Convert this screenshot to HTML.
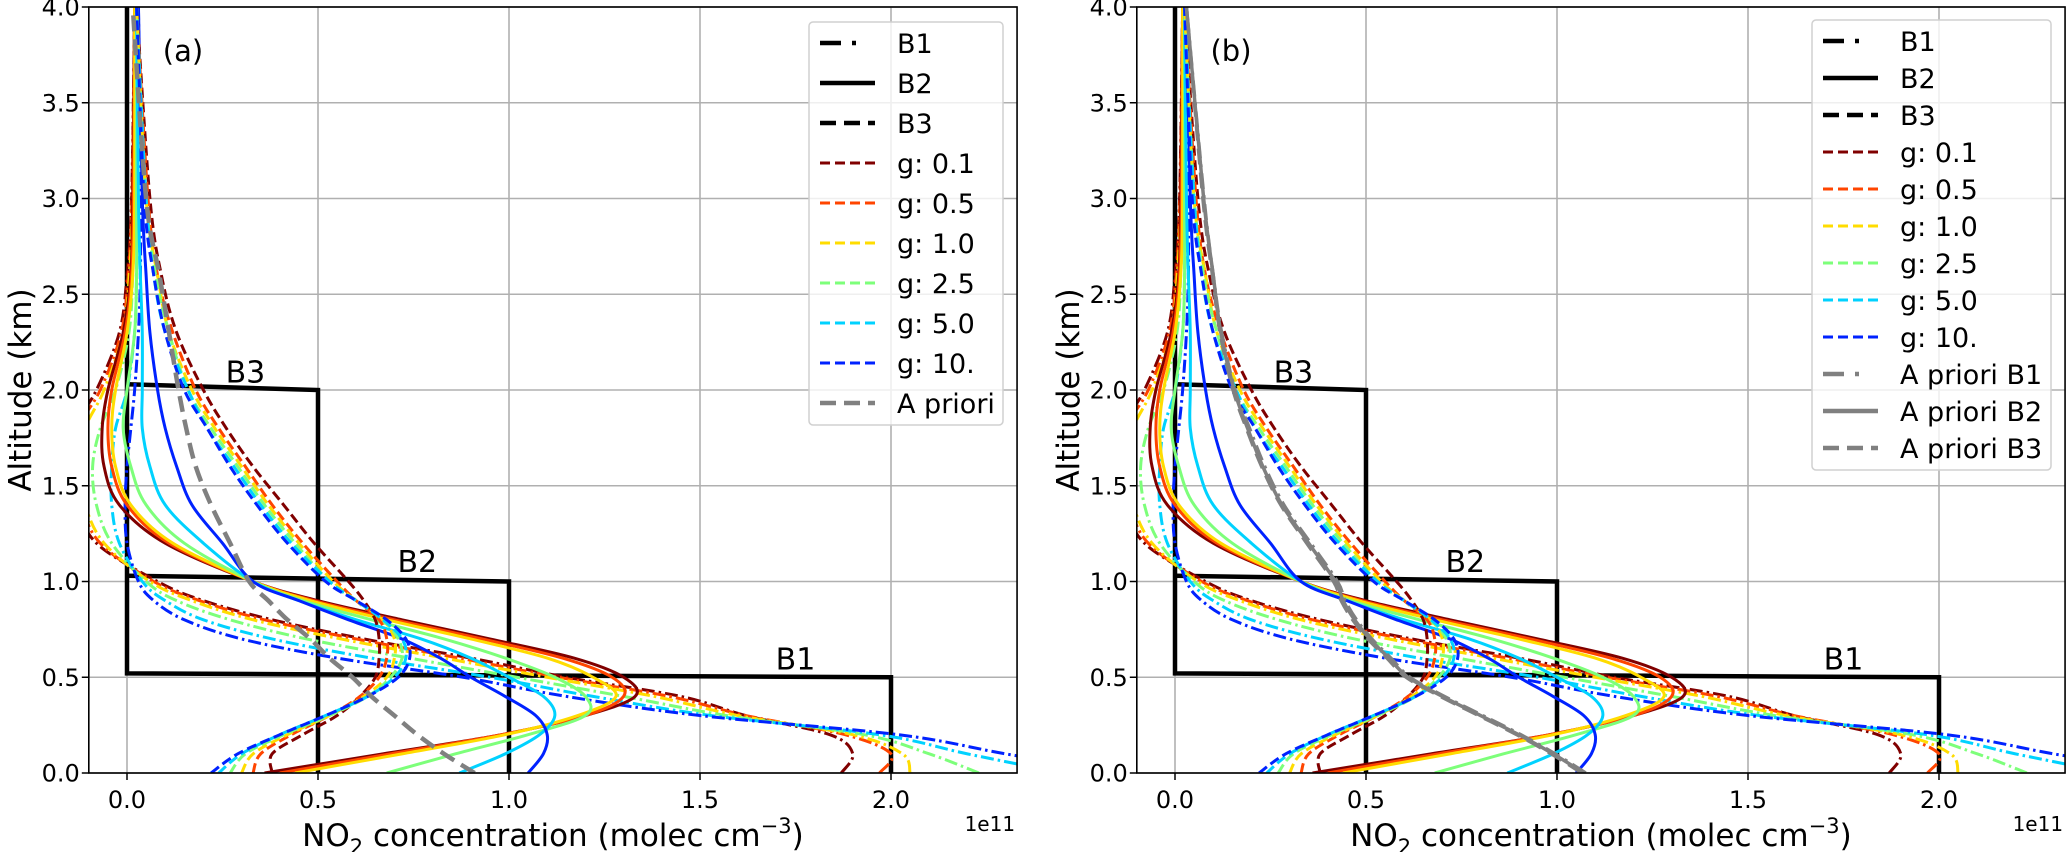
<!DOCTYPE html>
<html><head><meta charset="utf-8"><style>
body{margin:0;background:#fff;}
svg{display:block;font-family:"DejaVu Sans","Liberation Sans",sans-serif;}
</style></head><body>
<svg id="chart" width="2067" height="852" viewBox="0 0 2067 852" xmlns="http://www.w3.org/2000/svg"></svg>
<script>
const altitudes=[0,0.1,0.2,0.3,0.4,0.5,0.6,0.7,0.8,0.9,1.0,1.2,1.4,1.6,1.8,2.0,2.3,2.6,3.0,4.0];
const gLabels=["g: 0.1","g: 0.5","g: 1.0","g: 2.5","g: 5.0","g: 10."];
const gColors=["#800000","#ff4500","#ffdc00","#7dff7a","#00d2ff","#0022ff"];
const b1Series=[
[1.87,1.9,1.84,1.62,1.45,1.15,0.9,0.62,0.38,0.2,0.08,-0.08,-0.13,-0.16,-0.14,-0.08,-0.02,0.0,0.012,0.02],
[1.97,2.0,1.88,1.62,1.42,1.13,0.87,0.6,0.36,0.19,0.07,-0.07,-0.12,-0.15,-0.13,-0.07,-0.015,0.003,0.013,0.02],
[2.05,2.03,1.9,1.6,1.38,1.1,0.83,0.56,0.33,0.17,0.06,-0.06,-0.11,-0.13,-0.11,-0.06,-0.01,0.006,0.015,0.02],
[2.23,2.1,1.93,1.57,1.3,1.02,0.74,0.47,0.27,0.13,0.05,-0.04,-0.08,-0.09,-0.07,-0.03,0.005,0.015,0.02,0.022],
[2.45,2.2,1.97,1.53,1.22,0.95,0.64,0.38,0.2,0.1,0.04,-0.02,-0.04,-0.04,-0.03,0.0,0.02,0.025,0.027,0.025],
[2.6,2.3,2.02,1.5,1.15,0.88,0.55,0.3,0.15,0.07,0.03,0.0,-0.005,0.0,0.01,0.02,0.03,0.035,0.035,0.03]];
const b2Series=[
[0.36,0.67,0.98,1.2,1.33,1.3,1.17,0.95,0.72,0.5,0.33,0.1,-0.02,-0.06,-0.065,-0.05,-0.01,0.01,0.015,0.02],
[0.4,0.69,0.98,1.2,1.3,1.27,1.14,0.93,0.7,0.49,0.33,0.11,0.0,-0.04,-0.05,-0.04,-0.005,0.012,0.017,0.02],
[0.44,0.72,0.99,1.18,1.28,1.22,1.1,0.9,0.68,0.48,0.33,0.12,0.01,-0.03,-0.04,-0.03,0.0,0.015,0.02,0.02],
[0.68,0.86,1.05,1.2,1.2,1.12,0.99,0.83,0.64,0.46,0.33,0.15,0.05,0.01,-0.01,0.0,0.02,0.025,0.025,0.025],
[0.87,0.99,1.08,1.12,1.09,1.0,0.9,0.77,0.6,0.45,0.33,0.2,0.1,0.06,0.04,0.04,0.04,0.035,0.03,0.025],
[1.05,1.09,1.1,1.07,0.99,0.9,0.82,0.72,0.58,0.45,0.33,0.25,0.17,0.13,0.1,0.08,0.06,0.05,0.04,0.03]];
const b3Series=[
[0.38,0.38,0.46,0.55,0.61,0.65,0.66,0.66,0.65,0.62,0.58,0.49,0.41,0.33,0.26,0.2,0.13,0.09,0.06,0.025],
[0.33,0.35,0.43,0.53,0.61,0.66,0.68,0.68,0.66,0.6,0.55,0.46,0.38,0.31,0.24,0.18,0.12,0.08,0.055,0.025],
[0.30,0.33,0.42,0.53,0.62,0.68,0.7,0.7,0.67,0.6,0.54,0.45,0.37,0.3,0.23,0.17,0.11,0.08,0.05,0.025],
[0.27,0.31,0.41,0.53,0.63,0.69,0.72,0.71,0.67,0.6,0.53,0.44,0.36,0.29,0.22,0.16,0.11,0.075,0.05,0.025],
[0.24,0.3,0.4,0.52,0.63,0.7,0.73,0.72,0.67,0.6,0.53,0.43,0.35,0.28,0.21,0.16,0.1,0.07,0.05,0.025],
[0.22,0.29,0.4,0.52,0.63,0.71,0.74,0.73,0.68,0.6,0.52,0.42,0.34,0.27,0.21,0.15,0.1,0.07,0.045,0.025]];
const aprioriA=[0.91,0.83,0.76,0.7,0.64,0.59,0.53,0.48,0.42,0.37,0.32,0.27,0.22,0.18,0.155,0.135,0.11,0.085,0.05,0.015];
const aprioriB1=[1.075,0.995,0.905,0.805,0.705,0.615,0.565,0.515,0.475,0.445,0.425,0.355,0.285,0.235,0.195,0.157,0.122,0.1,0.076,0.03];
const aprioriB2=[1.07,0.99,0.9,0.8,0.7,0.61,0.56,0.51,0.47,0.44,0.42,0.35,0.28,0.23,0.19,0.155,0.12,0.1,0.075,0.03];
const aprioriB3=[1.065,0.985,0.895,0.795,0.695,0.605,0.555,0.505,0.465,0.435,0.415,0.345,0.277,0.227,0.187,0.152,0.118,0.098,0.073,0.03];
const xTicks=[0,0.5,1.0,1.5,2.0];
const xTickLabels=["0.0","0.5","1.0","1.5","2.0"];
const yTicks=[0,0.5,1,1.5,2,2.5,3,3.5,4];
const yTickLabels=["0.0","0.5","1.0","1.5","2.0","2.5","3.0","3.5","4.0"];
const boxB1=[[0,4],[0,0.52],[2.0,0.5],[2.0,0]];
const boxB2=[[0,1.03],[1.0,1.0],[1.0,0]];
const boxB3=[[0,2.03],[0.5,2.0],[0.5,0]];

const NS="http://www.w3.org/2000/svg";
const svg=document.getElementById('chart');
const X0=127, XS=382, Y0=773, YS=191.5, XMIN=-0.1, XMAX=2.33, YTOP=7;
function mk(tag,attrs,parent){const e=document.createElementNS(NS,tag);for(const k in attrs)e.setAttribute(k,attrs[k]);(parent||svg).appendChild(e);return e;}
function smoothPath(pts){
  let d="M"+pts[0][0].toFixed(2)+","+pts[0][1].toFixed(2);
  for(let i=0;i<pts.length-1;i++){
    const p0=pts[Math.max(0,i-1)],p1=pts[i],p2=pts[i+1],p3=pts[Math.min(pts.length-1,i+2)];
    const c1=[p1[0]+(p2[0]-p0[0])/6,p1[1]+(p2[1]-p0[1])/6];
    const c2=[p2[0]-(p3[0]-p1[0])/6,p2[1]-(p3[1]-p1[1])/6];
    d+="C"+c1.map(v=>v.toFixed(2)).join(",")+" "+c2.map(v=>v.toFixed(2)).join(",")+" "+p2[0].toFixed(2)+","+p2[1].toFixed(2);
  }
  return d;
}
const DASH={dashdot:"13,4,2.5,4",solid:"",dashed:"10,4.5"};

function panel(off,tag,isB){
  const sx=v=>X0+off+v*XS, sy=v=>Y0-v*YS;
  const L=sx(XMIN), R=sx(XMAX);
  const g=mk('g',{});
  
  
  const cid='clip'+tag;
  const cp=mk('clipPath',{id:cid},g); mk('rect',{x:L,y:YTOP,width:R-L,height:Y0-YTOP},cp);
  xTicks.forEach(t=>{const l=mk('line',{x1:sx(t),x2:sx(t),y1:YTOP,y2:Y0,stroke:'#b0b0b0','stroke-width':1.6},g);
    });
  yTicks.forEach(t=>{const l=mk('line',{x1:L,x2:R,y1:sy(t),y2:sy(t),stroke:'#b0b0b0','stroke-width':1.6},g);
    });
  const pg=mk('g',{'clip-path':'url(#'+cid+')'},g);
  [boxB1,boxB2,boxB3].forEach((b,i)=>{
    const p=mk('polyline',{points:b.map(q=>sx(q[0])+","+sy(q[1])).join(" "),fill:'none',stroke:'#000','stroke-width':4.5,'stroke-linejoin':'miter'},pg);
    
    
  });
  const groups=[[b1Series,'dashdot','b1'],[b2Series,'solid','b2'],[b3Series,'dashed','b3']];
  groups.forEach(([ser,st,nm])=>{
    ser.forEach((xs,i)=>{
      const pts=xs.map((v,j)=>[sx(v),sy(altitudes[j])]);
      const a={d:smoothPath(pts),fill:'none',stroke:gColors[i],'stroke-width':3};
      if(DASH[st])a['stroke-dasharray']=DASH[st];
      const p=mk('path',a,pg);
      
      
    });
  });
  const aps=isB?[[aprioriB1,'dashdot'],[aprioriB2,'solid'],[aprioriB3,'dashed']]:[[aprioriA,'dashed']];
  aps.forEach(([xs,st],k)=>{
    const pts=xs.map((v,j)=>[sx(v),sy(altitudes[j])]);
    const a={d:smoothPath(pts),fill:'none',stroke:'#808080','stroke-width':isB?3.5:4.5};
    if(st==='dashed')a['stroke-dasharray']='16,8';
    if(st==='dashdot')a['stroke-dasharray']='16,6,3,6';
    const p=mk('path',a,pg);
    
    
  });
  [['B3',0.31,2.04],['B2',0.76,1.05],['B1',1.75,0.54]].forEach(([t,x,y])=>{
    const e=mk('text',{x:sx(x),y:sy(y),'font-size':30,'text-anchor':'middle',fill:'#000'},g);e.textContent=t;
    
    
  });
  const sp=mk('rect',{x:L,y:YTOP,width:R-L,height:Y0-YTOP,fill:'none',stroke:'#000','stroke-width':1.6},g);
  
  xTicks.forEach((t,i)=>{mk('line',{x1:sx(t),x2:sx(t),y1:Y0,y2:Y0+7,stroke:'#000','stroke-width':1.5},g);
    const e=mk('text',{x:sx(t),y:Y0+35,'font-size':24,'text-anchor':'middle'},g);e.textContent=xTickLabels[i];
    });
  yTicks.forEach((t,i)=>{mk('line',{x1:L-7,x2:L,y1:sy(t),y2:sy(t),stroke:'#000','stroke-width':1.5},g);
    const e=mk('text',{x:L-9,y:sy(t)+8.5,'font-size':24,'text-anchor':'end'},g);e.textContent=yTickLabels[i];
    });
  const ex=mk('text',{x:R-2,y:831,'font-size':20,'text-anchor':'end'},g);ex.textContent='1e11';
  
  const xl=mk('text',{x:(L+R)/2,y:846,'font-size':31,'text-anchor':'middle'},g);
  xl.innerHTML='NO<tspan font-size="21" dy="8">2</tspan><tspan dy="-8"> concentration (molec cm</tspan><tspan font-size="21" dy="-13">−3</tspan><tspan dy="13">)</tspan>';
  
  const yl=mk('text',{x:0,y:0,'font-size':31,'text-anchor':'middle',transform:'translate('+(off+31)+',390) rotate(-90)'},g);
  yl.textContent='Altitude (km)';
  
  const pl=mk('text',{x:off+183,y:61,'font-size':29,'text-anchor':'middle'},g);pl.textContent='('+tag+')';
  
  const entries=[['B1','#000','dashdot',4.5],['B2','#000','solid',4.5],['B3','#000','dashed',4.5]];
  gLabels.forEach((l,i)=>entries.push([l,gColors[i],'dashed',3]));
  if(isB){entries.push(['A priori B1','#808080','dashdot',4.5],['A priori B2','#808080','solid',4.5],['A priori B3','#808080','dashed',4.5]);}
  else entries.push(['A priori','#808080','dashed',4.5]);
  const lx=isB?1812:809, lw=isB?239:194, ly=isB?20:22, step=isB?37:40, first=isB?41:43;
  const lh=first-ly+step*(entries.length-1)+22;
  const lg=mk('g',{},g);
  
  mk('rect',{x:lx,y:ly,width:lw,height:lh,rx:4,fill:'#fff','fill-opacity':0.8,stroke:'#d0d0d0','stroke-width':1.5},lg);
  entries.forEach((en,i)=>{
    const y=first+step*i;
    const eg=mk('g',{},lg);
    
    
    const a={x1:lx+11,x2:lx+66,y1:y,y2:y,stroke:en[1],'stroke-width':en[3]};
    if(en[2]==='dashed')a['stroke-dasharray']=en[3]>4?'16,8':'10,5';
    if(en[2]==='dashdot')a['stroke-dasharray']='21,11,4,20';
    mk('line',a,eg);
    const t=mk('text',{x:lx+88,y:y+10,'font-size':27},eg);t.textContent=en[0];
  });
}
panel(0,'a',false);
panel(1048,'b',true);
</script>
</body></html>
